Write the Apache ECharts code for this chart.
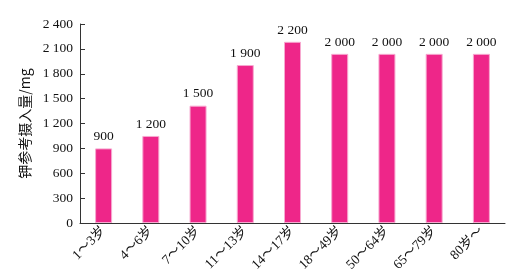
<!DOCTYPE html>
<html>
<head>
<meta charset="utf-8">
<script src="https://cdn.jsdelivr.net/npm/echarts@6/dist/echarts.min.js"></script>
<style>html,body{margin:0;padding:0;background:#fff}#c{width:518px;height:280px}</style>
</head>
<body>
<div id="c"></div>
<script>
const categories = ['1～3岁','4～6岁','7～10岁','11～13岁','14～17岁','18～49岁','50～64岁','65～79岁','80岁～'];
const values = [900, 1050, 1415, 1905, 2185, 2040, 2040, 2040, 2040];
const valueLabels = ['900','1 200','1 500','1 900','2 200','2 000','2 000','2 000','2 000'];
const yTicks = [0, 300, 600, 900, 1200, 1500, 1800, 2100, 2400];

const fmt = v => { const s = String(v); return s.length > 3 ? s.slice(0, s.length-3) + ' ' + s.slice(-3) : s; };
const serif = '"Liberation Serif", "Noto Sans CJK SC", serif';

const chart = echarts.init(document.getElementById('c'), null, {renderer: 'canvas'});
chart.setOption({
  animation: false,
  grid: {left: 80, right: 13, top: 24, bottom: 57},
  xAxis: {
    type: 'category',
    data: categories,
    axisLine: {lineStyle: {color: '#333', width: 1}},
    axisTick: {show: false},
    axisLabel: {rotate: 45, color: '#111', fontFamily: serif, fontSize: 13.5, margin: 6, interval: 0}
  },
  yAxis: {
    type: 'value',
    min: yTicks[0], max: yTicks[yTicks.length-1], interval: 300,
    name: '钾参考摄入量/mg',
    nameLocation: 'middle',
    nameGap: 45,
    nameTextStyle: {fontFamily: '"Noto Sans CJK SC", sans-serif', fontSize: 14, color: '#111'},
    axisLine: {show: true, lineStyle: {color: '#333', width: 1}},
    axisTick: {show: true, inside: true, length: 5, lineStyle: {color: '#333'}},
    splitLine: {show: false},
    axisLabel: {color: '#111', fontFamily: serif, fontSize: 13.5, margin: 7, formatter: v => fmt(v)}
  },
  series: [{
    type: 'bar',
    data: values,
    barWidth: 17,
    itemStyle: {color: '#ee2689', borderColor: '#f7a9d0', borderWidth: 1},
    label: {
      show: true, position: 'top', distance: 5,
      color: '#111', fontFamily: serif, fontSize: 13.5,
      formatter: p => valueLabels[p.dataIndex]
    }
  }]
});
</script>
</body>
</html>
